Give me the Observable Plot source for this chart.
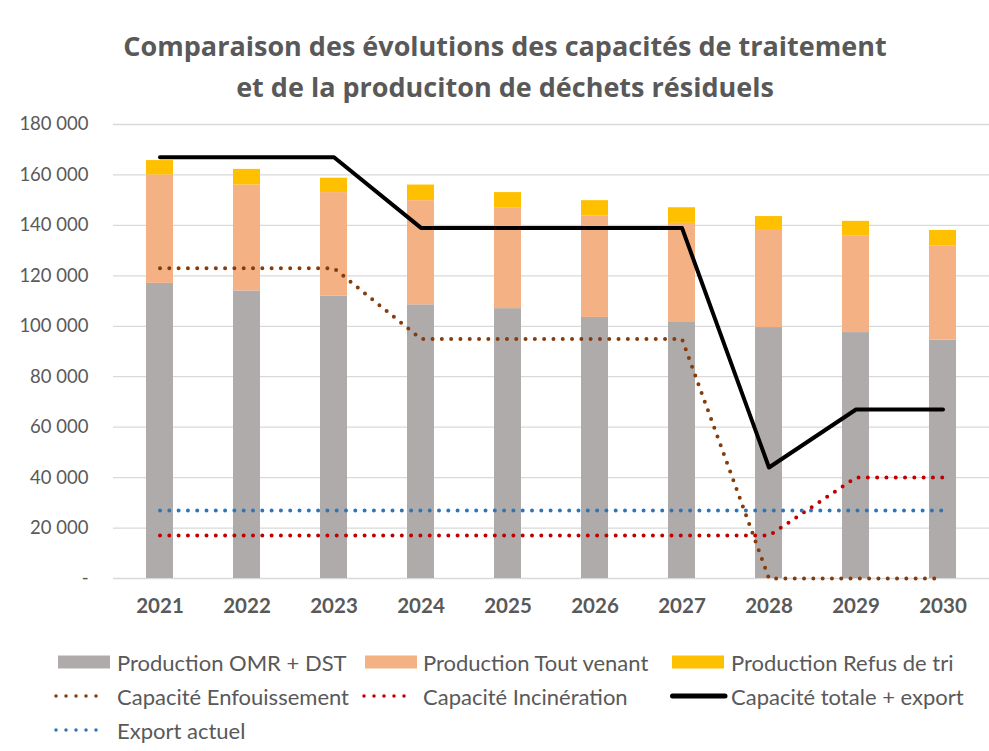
<!DOCTYPE html>
<html>
<head>
<meta charset="utf-8">
<script src="https://cdn.jsdelivr.net/npm/d3@7"></script>
<script src="https://cdn.jsdelivr.net/npm/@observablehq/plot@0.6"></script>
<style>
  html, body { margin: 0; padding: 0; background: #fff; }
  #page { position: relative; width: 989px; height: 751px; font-family: Lato, "Open Sans", sans-serif; color: #595959; overflow: hidden; }
  #title { position: absolute; left: 0; top: 25px; width: 1010px; text-align: center; font-family: "Open Sans", Lato, sans-serif; font-weight: bold; font-size: 27px; line-height: 41px; color: #595959; }
  #chart { position: absolute; left: 0; top: 110px; }
  .leg { position: absolute; height: 30px; display: flex; align-items: center; font-size: 22px; color: #595959; white-space: nowrap; }
  .sw { position: absolute; }
  #chart g[aria-label="x-axis"] text, #chart g[aria-label="x-axis tick label"] text { font-weight: bold; font-size: 20.5px; }
</style>
</head>
<body>
<div id="page">
  <div id="title">Comparaison des évolutions des capacités de traitement<br>et de la produciton de déchets résiduels</div>
  <div id="chart"></div>
  <div id="legend"></div>
</div>
<script>
const years = ["2021","2022","2023","2024","2025","2026","2027","2028","2029","2030"];
const productionOMR = [117000,114000,112000,108500,107000,103500,101500,99500,97500,94500];
const productionToutVenant = [43000,42000,41000,41300,40000,40200,39300,38500,38400,37400];
const productionRefus = [5700,6200,5700,6200,6000,6100,6200,5500,5700,6100];
const capaciteEnfouissement = [123000,123000,123000,95000,95000,95000,95000,0,0,0];
const capaciteIncineration = [17000,17000,17000,17000,17000,17000,17000,17000,40000,40000];
const capaciteTotale = [167000,167000,167000,139000,139000,139000,139000,44000,67000,67000];
const exportActuel = [27000,27000,27000,27000,27000,27000,27000,27000,27000,27000];
const yTicks = [0,20000,40000,60000,80000,100000,120000,140000,160000,180000];

const barSeries = ["Production OMR + DST","Production Tout venant","Production Refus de tri"];
const barColors = ["#AFABAB","#F4B183","#FFC000"];
const barValues = [productionOMR, productionToutVenant, productionRefus];

const bars = [];
barSeries.forEach((s, i) => years.forEach((y, j) => bars.push({year: y, series: s, value: barValues[i][j]})));
const toRows = arr => years.map((y, j) => ({year: y, value: arr[j]}));

const fmt = d => d === 0 ? "-" : d3.format(",")(d).replace(/,/g, " ");

const dotted = (arr, color) => Plot.line(toRows(arr), {
  x: "year", y: "value", stroke: color, strokeWidth: 4,
  strokeDasharray: "0,9.3", strokeLinecap: "round", strokeLinejoin: "round"
});

const chart = Plot.plot({
  width: 989,
  height: 525,
  marginLeft: 113,
  marginRight: 0,
  marginTop: 14,
  marginBottom: 57,
  style: {fontFamily: "Lato, 'Open Sans', sans-serif", fontSize: "18.5px", color: "#595959", background: "transparent"},
  x: {type: "band", domain: years, paddingInner: 0.69, paddingOuter: 0.345, tickSize: 0, tickPadding: 20, label: null},
  y: {domain: [0, 180000], ticks: yTicks, tickSize: 0, tickPadding: 25, tickFormat: fmt, label: null},
  color: {domain: barSeries, range: barColors},
  marks: [
    Plot.ruleY(yTicks, {stroke: "#D9D9D9", strokeWidth: 1.3}),
    Plot.barY(bars, {x: "year", y: "value", fill: "series", order: barSeries}),
    dotted(capaciteEnfouissement, "#843C0C"),
    dotted(capaciteIncineration, "#C00000"),
    dotted(exportActuel, "#2E75B6"),
    Plot.line(toRows(capaciteTotale), {x: "year", y: "value", stroke: "#000", strokeWidth: 4, strokeLinejoin: "round", strokeLinecap: "round"})
  ]
});
document.getElementById("chart").appendChild(chart);

// Legend
const legendItems = [
  {label: "Production OMR + DST", type: "rect", color: "#AFABAB", sx: 58, tx: 117, y: 662},
  {label: "Production Tout venant", type: "rect", color: "#F4B183", sx: 365, tx: 423, y: 662},
  {label: "Production Refus de tri", type: "rect", color: "#FFC000", sx: 672, tx: 731, y: 662},
  {label: "Capacité Enfouissement", type: "dot", color: "#843C0C", sx: 53, tx: 117, y: 696},
  {label: "Capacité Incinération", type: "dot", color: "#C00000", sx: 361, tx: 423, y: 696},
  {label: "Capacité totale + export", type: "line", color: "#000", sx: 670, tx: 731, y: 696},
  {label: "Export actuel", type: "dot", color: "#2E75B6", sx: 53, tx: 117, y: 730}
];
const legend = document.getElementById("legend");
legendItems.forEach(it => {
  let sw;
  if (it.type === "rect") sw = `<svg class="sw" style="left:${it.sx}px;top:${it.y - 7}px" width="52" height="14"><rect x="0" y="0.5" width="52" height="13" fill="${it.color}"/></svg>`;
  else if (it.type === "dot") sw = `<svg class="sw" style="left:${it.sx}px;top:${it.y - 7}px" width="56" height="14"><line x1="3" y1="7" x2="53" y2="7" stroke="${it.color}" stroke-width="3.5" stroke-dasharray="0,10" stroke-linecap="round"/></svg>`;
  else sw = `<svg class="sw" style="left:${it.sx}px;top:${it.y - 7}px" width="58" height="14"><line x1="2.5" y1="7" x2="55" y2="7" stroke="${it.color}" stroke-width="5" stroke-linecap="round"/></svg>`;
  legend.insertAdjacentHTML("beforeend", sw);
  const div = document.createElement("div");
  div.className = "leg";
  div.style.left = it.tx + "px";
  div.style.top = (it.y - 15) + "px";
  div.textContent = it.label;
  legend.appendChild(div);
});
</script>
</body>
</html>
